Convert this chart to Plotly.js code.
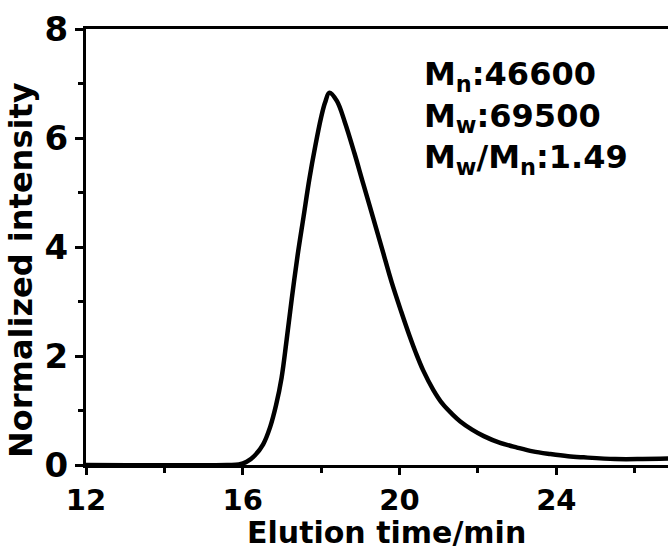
<!DOCTYPE html>
<html>
<head>
<meta charset="utf-8">
<script src="https://cdn.plot.ly/plotly-3.0.1.min.js"></script>
<style>html,body{margin:0;padding:0;background:#fff;}#chart{width:668px;height:551px;}</style>
</head>
<body>
<div id="chart"></div>
<script>
const elutionTime = [12, 15.6, 15.9, 16.1, 16.3, 16.52, 16.7, 16.85, 16.99, 17.12, 17.25, 17.4, 17.55, 17.7, 17.85, 18.0, 18.1, 18.21, 18.4, 18.6, 18.85, 19.05, 19.24, 19.4, 19.58, 19.8, 20.04, 20.25, 20.42, 20.6, 20.86, 21.1, 21.35, 21.55, 21.85, 22.15, 22.55, 23.0, 23.4, 23.85, 24.3, 24.7, 25.5, 26.2, 27];
const intensity   = [0, 0, 0.01, 0.06, 0.17, 0.38, 0.7, 1.1, 1.6, 2.3, 3.05, 3.85, 4.55, 5.25, 5.85, 6.38, 6.65, 6.83, 6.68, 6.3, 5.72, 5.22, 4.75, 4.35, 3.9, 3.35, 2.82, 2.38, 2.05, 1.74, 1.38, 1.12, 0.93, 0.8, 0.65, 0.53, 0.41, 0.32, 0.25, 0.2, 0.16, 0.14, 0.11, 0.11, 0.12];
const xTicks = [12, 16, 20, 24];
const yTicks = [0, 2, 4, 6, 8];
const xTitle = 'Elution time/min';
const yTitle = 'Normalized intensity';
const statsText = '<b>M<sub>n</sub>:46600</b><br><b>M<sub>w</sub>:69500</b><br><b>M<sub>w</sub>/M<sub>n</sub>:1.49</b>';

const F = 'DejaVu Sans';
const data = [{
  x: elutionTime, y: intensity, type: 'scatter', mode: 'lines',
  line: {color: '#000', width: 4.5, shape: 'spline', smoothing: 1},
  hoverinfo: 'none'
}];
const layout = {
  width: 668, height: 551,
  margin: {l: 86, r: 0, t: 29, b: 86},
  paper_bgcolor: '#fff', plot_bgcolor: '#fff',
  showlegend: false,
  xaxis: {
    range: [12, 26.85], tickvals: xTicks, ticktext: xTicks.map(String),
    ticks: 'outside', ticklen: 7, tickwidth: 3, tickcolor: '#000',
    showline: true, linewidth: 3, linecolor: '#000', mirror: true,
    showgrid: false, zeroline: false,
    minor: {tickvals: [14, 18, 22, 26], ticks: 'outside', ticklen: 5, tickwidth: 3, tickcolor: '#000', showgrid: false},
    tickfont: {family: F, size: 29, weight: 'bold', color: '#000'}
  },
  yaxis: {
    range: [0, 8], tickvals: yTicks, ticktext: yTicks.map(String),
    ticks: 'outside', ticklen: 8, tickwidth: 3, tickcolor: '#000',
    showline: true, linewidth: 3, linecolor: '#000',
    showgrid: false, zeroline: false,
    minor: {tickvals: [1, 3, 5, 7], ticks: 'outside', ticklen: 5, tickwidth: 3, tickcolor: '#000', showgrid: false},
    tickfont: {family: F, size: 34, weight: 'bold', color: '#000'}
  },
  annotations: [{
    xref: 'paper', yref: 'paper', x: 0.578, y: 0.945, xanchor: 'left', yanchor: 'top',
    align: 'left', showarrow: false, text: statsText,
    font: {family: F, size: 32, color: '#000'}
  }, {
    xref: 'paper', yref: 'paper', x: 0.517, y: -0.1545, xanchor: 'center', yanchor: 'middle',
    showarrow: false, borderpad: 0, text: '<b>' + xTitle + '</b>',
    font: {family: F, size: 30, color: '#000'}
  }, {
    xref: 'paper', yref: 'paper', x: -0.112, y: 0.447, xanchor: 'center', yanchor: 'middle',
    textangle: -90, showarrow: false, text: '<b>' + yTitle + '</b>',
    font: {family: F, size: 32, color: '#000'}
  }]
};
Plotly.newPlot('chart', data, layout, {displayModeBar: false, staticPlot: true});
</script>
</body>
</html>
